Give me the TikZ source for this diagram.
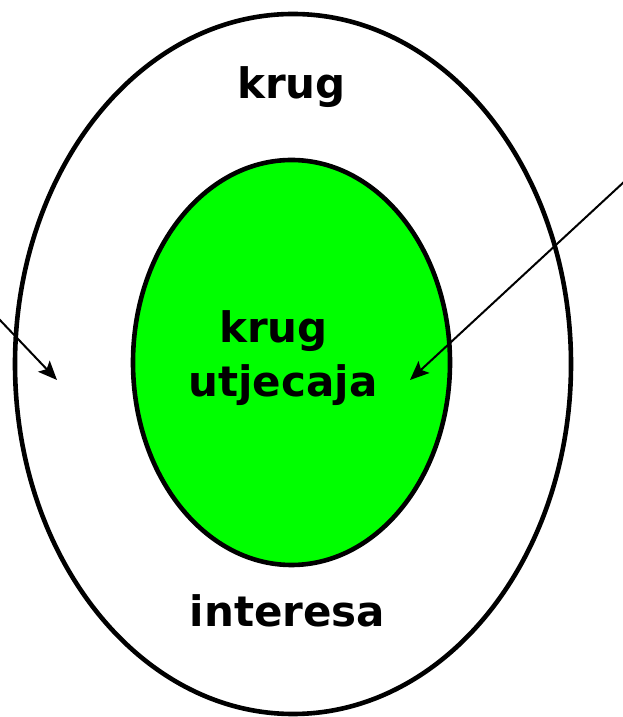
\documentclass[tikz,border=0pt]{standalone}
\usepackage{fontspec}
\setmainfont{DejaVu Sans}
\usetikzlibrary{shapes.geometric,arrows.meta}
\definecolor{lime}{RGB}{0,255,0}
\tikzset{
  ring/.style={ellipse, draw=black, line width=4.6pt, inner sep=0pt},
  lbl/.style={font=\bfseries\fontsize{42}{54}\selectfont, inner sep=0pt, anchor=base},
  pointer/.style={line width=2pt, -{Stealth[length=19pt,width=16pt,inset=4pt]}}
}
\begin{document}
\begin{tikzpicture}[x=1pt,y=1pt]
\useasboundingbox (0,0) rectangle (623,717);
\node[ring, minimum width=556pt, minimum height=700pt] (outer) at (293,353) {};
\node[ring, fill=lime, minimum width=317pt, minimum height=405pt] (inner) at (291.5,354.5) {};
\node[lbl] (top) at (291.5,618) {krug};
\node[lbl] (mid1) at (273.5,374) {krug};
\node[lbl] (mid2) at (283,320) {utjecaja};
\node[lbl] (bot) at (287.5,90) {interesa};
\coordinate (ls) at (-2,399);
\coordinate (le) at (57,337);
\coordinate (rs) at (625,536);
\coordinate (re) at (410,337);
\draw[pointer] (ls) -- (le);
\draw[pointer] (rs) -- (re);
\end{tikzpicture}
\end{document}
